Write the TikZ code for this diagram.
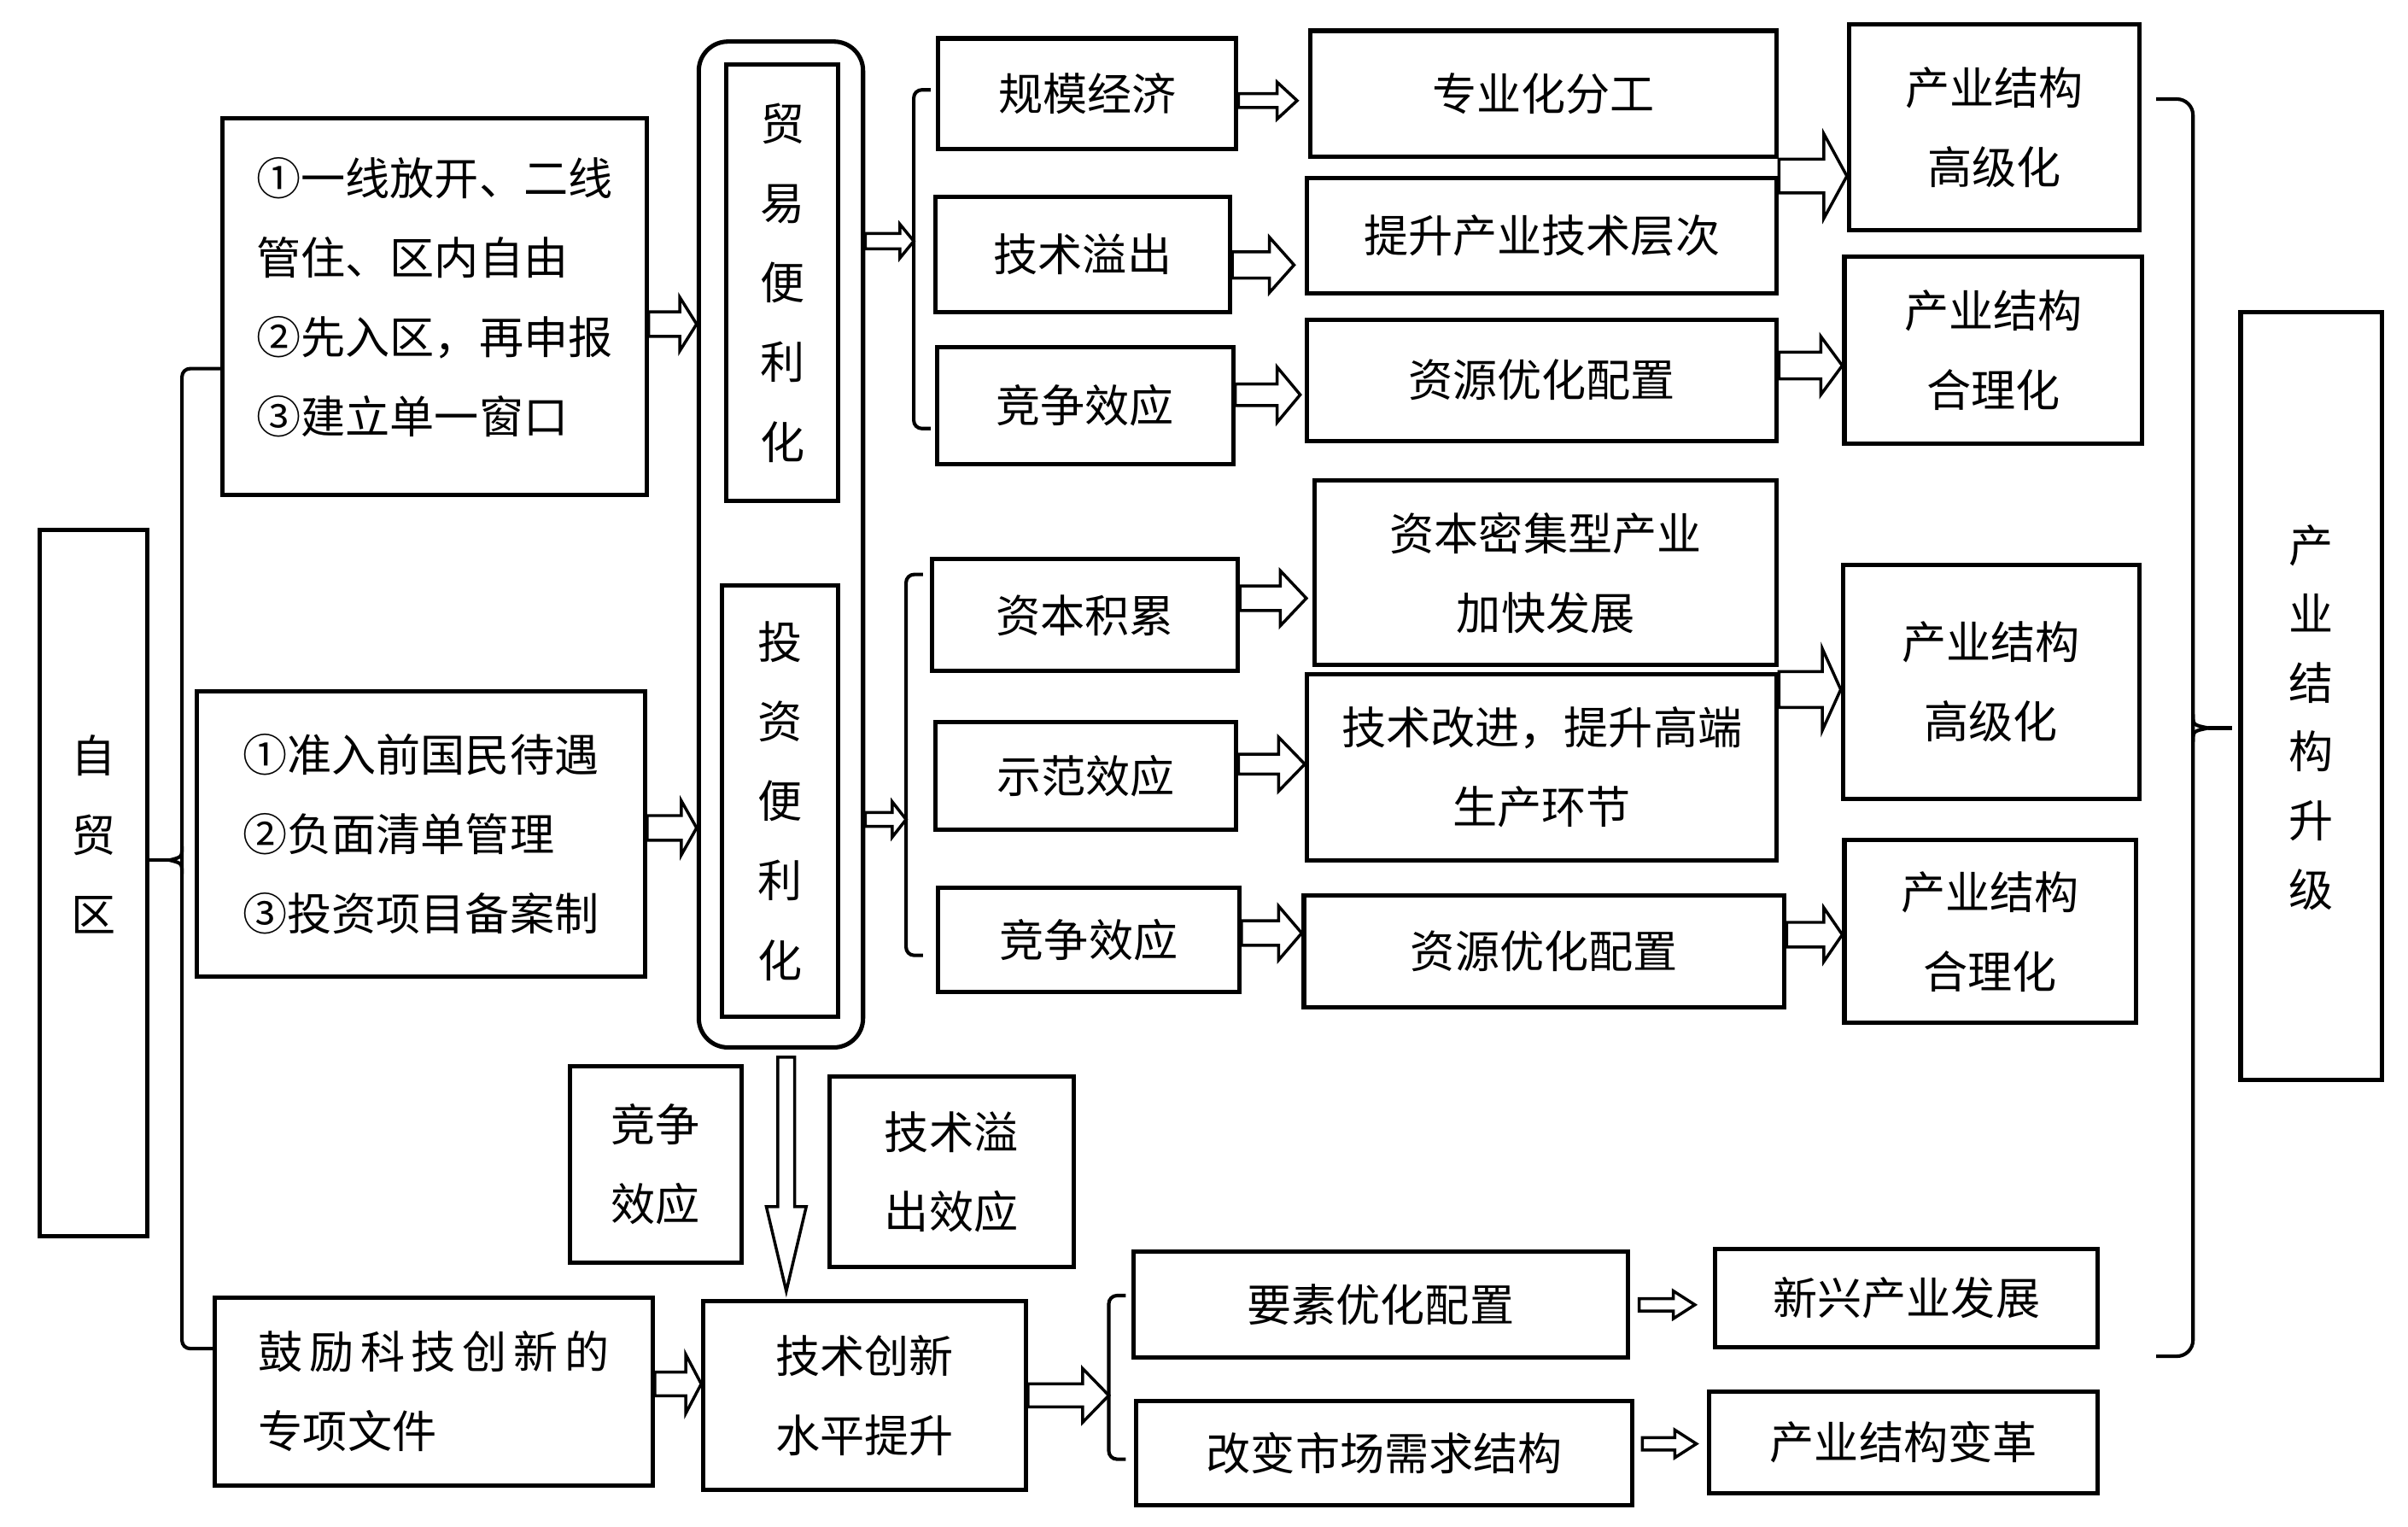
\documentclass[tikz,border=0pt]{standalone}
\usepackage{fontspec}
\setmainfont{Noto Sans CJK SC}
\usetikzlibrary{calc}
\newcommand{\pxu}{0.02cm}
\tikzset{
  boxfont/.style={font=\fontsize{16.5}{29.5}\selectfont},
  box/.style={draw, line width=1.6pt, inner sep=0pt, align=center, boxfont},
  fatline/.style={draw, fill=white, line width=1.1pt, line join=miter},
  hfat/.style args={#1/#2/#3}{fatline, to path={
    let \p1=(\tikztostart), \p2=(\tikztotarget) in
    (\x1,\y1+#1*\pxu) -- (\x2-#3*\pxu,\y1+#1*\pxu) -- (\x2-#3*\pxu,\y1+#2*\pxu) -- (\x2,\y1)
    -- (\x2-#3*\pxu,\y1-#2*\pxu) -- (\x2-#3*\pxu,\y1-#1*\pxu) -- (\x1,\y1-#1*\pxu) -- cycle}},
  vfat/.style args={#1/#2/#3}{fatline, to path={
    let \p1=(\tikztostart), \p2=(\tikztotarget) in
    (\x1-#1*\pxu,\y1) -- (\x1-#1*\pxu,\y2+#3*\pxu) -- (\x1-#2*\pxu,\y2+#3*\pxu) -- (\x1,\y2)
    -- (\x1+#2*\pxu,\y2+#3*\pxu) -- (\x1+#1*\pxu,\y2+#3*\pxu) -- (\x1+#1*\pxu,\y1) -- cycle}},
  brace/.style={draw, line width=1.3pt, rounded corners=3pt},
}
\begin{document}
\begin{tikzpicture}[x=0.02cm, y=-0.02cm]
\useasboundingbox (0,0) rectangle (1568,994);
%left side
\node[box, minimum width=1.4cm, minimum height=9.2cm,
  label={[boxfont, align=center, yshift=0.64cm]center:自\\贸\\区}] (zmq) at (61,575) {};
\node[box, minimum width=5.52cm, minimum height=4.9cm,
  label={[boxfont, align=left, yshift=0.12cm]center:①一线放开、二线\\管住、区内自由\\②先入区，再申报\\③建立单一窗口}]
  (tf1) at (283,199.5) {};
\node[box, align=left, minimum width=5.84cm, minimum height=3.72cm] (tz1) at (274,543)
  {①准入前国民待遇\\②负面清单管理\\③投资项目备案制};
\node[box, align=left, minimum width=5.7cm, minimum height=2.44cm] (kj) at (282.5,906)
  {鼓\hskip2.4pt 励\hskip2.4pt 科\hskip2.4pt 技\hskip2.4pt 创\hskip2.4pt 新\hskip2.4pt 的\\专项文件};
%facilitation
\node[draw, line width=1.6pt, rounded corners=0.38cm, minimum width=2.14cm, minimum height=13.1cm] (rbox) at (508.5,354.5) {};
\node[box, minimum width=1.46cm, minimum height=5.68cm] (my) at (509.5,184) {贸\\易\\便\\利\\化};
\node[box, minimum width=1.52cm, minimum height=5.62cm] (tzb) at (508,521.5) {投\\资\\便\\利\\化};
%innovation
\node[box, minimum width=2.24cm, minimum height=2.56cm] (jz1) at (427,758) {竞争\\效应};
\node[box, minimum width=3.18cm, minimum height=2.48cm] (jsy) at (619.5,763) {技术溢\\出效应};
\node[box, minimum width=4.2cm, minimum height=2.46cm] (jscx) at (563,908.5) {技术创新\\水平提升};
\node[box, minimum width=6.44cm, minimum height=1.38cm] (ys) at (899,849.5) {要素优化配置};
\node[box, minimum width=6.46cm, minimum height=1.36cm] (gb) at (901.5,946) {改变市场需求结构};
\node[box, minimum width=4.98cm, minimum height=1.28cm] (xx) at (1241.5,845) {新兴产业发展};
\node[box, minimum width=5.06cm, minimum height=1.32cm] (bg) at (1239.5,939) {产业结构变革};
%trade
\node[box, minimum width=3.88cm, minimum height=1.44cm] (gm) at (708,61) {规模经济};
\node[box, minimum width=3.84cm, minimum height=1.5cm] (jy1) at (705,165.5) {技术溢出};
\node[box, minimum width=3.86cm, minimum height=1.52cm] (jz2) at (706.5,264) {竞争效应};
\node[box, minimum width=6.08cm, minimum height=1.64cm] (zy) at (1005,61) {专业化分工};
\node[box, minimum width=6.12cm, minimum height=1.5cm] (ts) at (1004,153.5) {提升产业技术层次};
\node[box, minimum width=6.12cm, minimum height=1.58cm] (zp1) at (1004,247.5) {资源优化配置};
\node[box, minimum width=3.78cm, minimum height=2.68cm] (gj1) at (1298.5,83) {产业结构\\高级化};
\node[box, minimum width=3.88cm, minimum height=2.44cm] (hl1) at (1298,228) {产业结构\\合理化};
%investment
\node[box, minimum width=3.98cm, minimum height=1.46cm] (zb) at (706.5,400.5) {资本积累};
\node[box, minimum width=3.92cm, minimum height=1.4cm] (sf) at (707,505) {示范效应};
\node[box, minimum width=3.92cm, minimum height=1.36cm] (jz3) at (709,612) {竞争效应};
\node[box, minimum width=6.02cm, minimum height=2.4cm] (zbm) at (1006.5,373) {资本密集型产业\\加快发展};
\node[box, minimum width=6.12cm, minimum height=2.42cm] (jg) at (1004,499.5) {技术改进，提升高端\\生产环节};
\node[box, minimum width=6.26cm, minimum height=1.46cm] (zp2) at (1005.5,619.5) {资源优化配置};
\node[box, minimum width=3.86cm, minimum height=3.04cm] (gj2) at (1296.5,444) {产业结构\\高级化};
\node[box, minimum width=3.8cm, minimum height=2.38cm] (hl2) at (1296,606.5) {产业结构\\合理化};
\node[box, minimum width=1.84cm, minimum height=10cm,
  label={[font=\fontsize{16.5}{25.5}\selectfont, align=center, yshift=-0.28cm]center:产\\业\\结\\构\\升\\级}]
  (sj) at (1505,453) {};
%brackets
\coordinate (lbr) at (118.5,560);
\coordinate (tbr) at (595,157);
\coordinate (mbr) at (590,533.5);
\coordinate (bbr) at (722,906.5);
\coordinate (rbr) at (1428,474);
\draw[brace] (145,240) -- (118.5,240) -- (118.5,878) -- (140,878);
\draw[brace] (zmq.east |- lbr) -- ($(lbr)+(-8,0)$);
\draw[brace, rounded corners=0pt] ($(lbr)+(0,-9)$) .. controls ($(lbr)+(0,-2)$) .. ($(lbr)+(-8,0)$)
  .. controls ($(lbr)+(0,2)$) .. ($(lbr)+(0,9)$);
\draw[brace] (606,58.5) -- (595,58.5) -- (595,279) -- (606,279);
\draw[brace] (601,374) -- (590,374) -- (590,622) -- (601,622);
\draw[brace] (733,843.5) -- (722,843.5) -- (722,950) -- (733,950);
\draw[brace, rounded corners=6pt] (1404,64.5) -- (1428,64.5) -- (1428,883) -- (1404,883);
\coordinate (rtip) at ($(sj.west |- rbr)+(-4,0)$);
\draw[brace, rounded corners=0pt] ($(rbr)+(0,-9)$) .. controls ($(rbr)+(0,-2)$) .. ($(rbr)+(10,0)$)
  .. controls ($(rbr)+(0,2)$) .. ($(rbr)+(0,9)$);
\draw[brace] ($(rbr)+(10,0)$) -- (rtip);
%arrows
\coordinate (a1) at ($(tf1.east)+(0,11.5)$);
\coordinate (a2) at ($(tz1.east)+(0,-4)$);
\draw[hfat=8/17.5/11] (a1) to (rbox.west);
\draw[hfat=8/17.7/10] (a2) to (rbox.west);
\draw[hfat=5/11/9] (rbox.east |- tbr) to (tbr);
\draw[hfat=4.5/11.5/9] (rbox.east |- mbr) to (mbr);
\coordinate (a5) at ($(gm.east)+(0,4.5)$);
\coordinate (e5) at ($(zy.west)+(-7,0)$);
\coordinate (a6) at ($(jy1.east)+(0,7)$);
\coordinate (e6) at ($(ts.west)+(-7,0)$);
\coordinate (a7) at ($(jz2.east)+(0,-7)$);
\coordinate (e7) at ($(zp1.west)+(-3,0)$);
\coordinate (a8) at ($(zy.east)!0.58!(ts.east)$);
\coordinate (a9) at ($(zp1.east)+(0,-9.5)$);
\draw[hfat=4.5/12/13] (a5) to (e5);
\draw[hfat=8.5/18/16] (a6) to (e6);
\draw[hfat=7/18/15] (a7) to (e7);
\draw[hfat=11/27.5/15] (a8) to (gj1.west);
\draw[hfat=8.7/19/14] (a9) to (hl1.west);
\coordinate (a10) at ($(zb.east)+(0,-11)$);
\coordinate (e10) at ($(zbm.west)+(-4,0)$);
\coordinate (a11) at ($(sf.east)+(0,-7.5)$);
\coordinate (a12) at ($(jz3.east)+(0,-4.5)$);
\coordinate (a13) at ($(zbm.east)!0.6!(jg.east)$);
\coordinate (a14) at ($(zp2.east)+(0,-11)$);
\draw[hfat=8/18/17] (a10) to (e10);
\draw[hfat=6.5/17.5/17] (a11) to (jg.west);
\draw[hfat=8/17.5/15] (a12) to (zp2.west);
\draw[hfat=11.7/26.6/12] (a13) to (gj2.west);
\draw[hfat=8/17.5/12] (a14) to (hl2.west);
\coordinate (a15) at ($(rbox.south)+(3.5,5)$);
\coordinate (e15) at ($(a15 |- jscx.north)+(0,-5)$);
\draw[vfat=5.5/13/55] (a15) to (e15);
\coordinate (a16) at ($(kj.east)+(0,-5)$);
\draw[hfat=7.7/19/10] (a16) to (jscx.west);
\draw[hfat=7.5/17.5/17] (jscx.east) to (bbr);
\coordinate (a18) at ($(ys.east)+(6,0)$);
\coordinate (e18) at ($(xx.west)+(-12,0)$);
\coordinate (a19) at ($(gb.east)+(5,-6)$);
\coordinate (e19) at ($(bg.west)+(-7,0)$);
\draw[hfat=4/9/14] (a18) to (e18);
\draw[hfat=4/9/14] (a19) to (e19);
\end{tikzpicture}
\end{document}
